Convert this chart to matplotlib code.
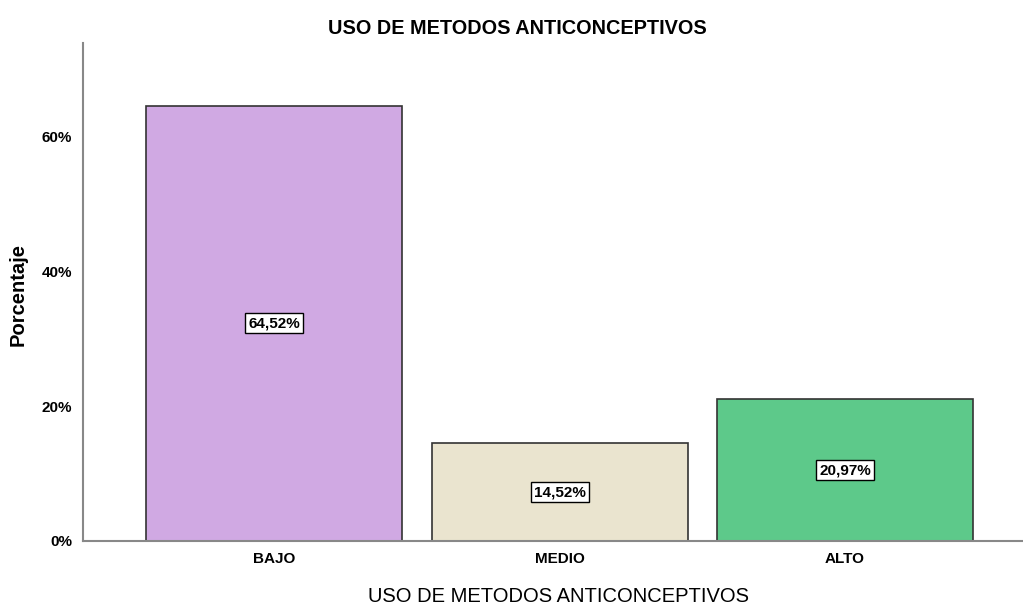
import matplotlib.pyplot as plt
from matplotlib.ticker import FuncFormatter

categories = ['BAJO', 'MEDIO', 'ALTO']
percentages = [64.52, 14.52, 20.97]
colors = ['#D0A9E3', '#EAE4CF', '#5DC98A']

narrow = ['Liberation Sans Narrow', 'Liberation Sans', 'DejaVu Sans']
plt.rcParams['font.family'] = ['Liberation Sans', 'DejaVu Sans']

fig = plt.figure(figsize=(10.23, 6.06), dpi=100)
ax = fig.add_axes([83 / 1023, 1 - 541 / 606, 1 - 83 / 1023, (541 - 43) / 606])

x = list(range(len(categories)))
ax.bar(x, percentages, width=0.897, color=colors, edgecolor='#333333', linewidth=1.2)

for xi, p in zip(x, percentages):
    ax.text(xi, p / 2, f'{p:.2f}%'.replace('.', ','), ha='center', va='center',
            fontsize=11, fontweight='bold', family=narrow,
            bbox=dict(boxstyle='square,pad=0.2', facecolor='white', edgecolor='black', linewidth=1))

ax.set_xlim(-0.669, 2.623)
ax.set_ylim(0, 73.8)
ax.set_yticks([0, 20, 40, 60])
ax.yaxis.set_major_formatter(FuncFormatter(lambda v, pos: f'{v:.0f}%'))
ax.set_xticks(x)
ax.set_xticklabels(categories)
ax.tick_params(length=0, pad=8)
for lbl in ax.get_xticklabels() + ax.get_yticklabels():
    lbl.set_family(narrow)
    lbl.set_fontweight('bold')
    lbl.set_fontsize(11)

for s in ['top', 'right']:
    ax.spines[s].set_visible(False)
for s in ['left', 'bottom']:
    ax.spines[s].set_color('#888888')
    ax.spines[s].set_linewidth(1.5)

# axis titles and chart title
fig.text(18 / 1023, 1 - 294 / 606, 'Porcentaje', rotation=90, ha='center', va='center',
         fontsize=14.5, fontweight='bold')
fig.text(559 / 1023, 1 - 596 / 606, 'USO DE METODOS ANTICONCEPTIVOS', ha='center', va='center',
         fontsize=14.5)
fig.text(517 / 1023, 1 - 28 / 606, 'USO DE METODOS ANTICONCEPTIVOS', ha='center', va='center',
         fontsize=14.3, fontweight='bold')

fig.savefig('out.png', dpi=100)
